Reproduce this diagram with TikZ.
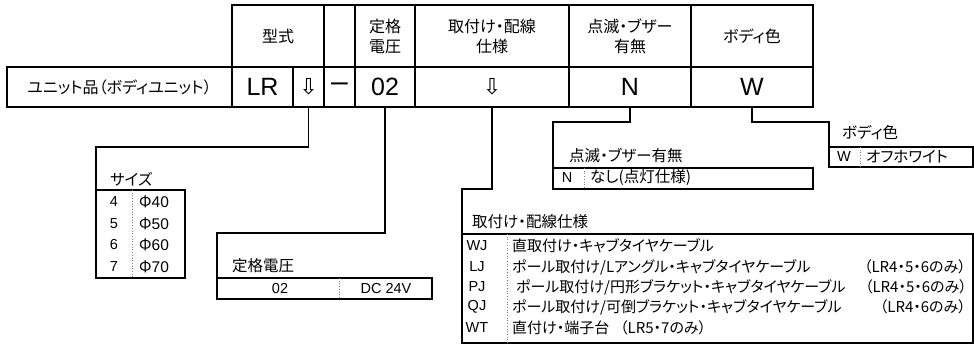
\documentclass[tikz,border=0pt]{standalone}
\usepackage{fontspec}
\setmainfont{Noto Sans CJK JP}[RawFeature=+palt]
\newfontfamily\latf{Liberation Sans}
\newfontfamily\dvf{DejaVu Sans}
\begin{document}
\begin{tikzpicture}[x=1pt,y=-1pt,
  hcell/.style={draw, line width=1.8pt, inner sep=0pt, outer sep=0pt, anchor=north west, align=center, font=\fontsize{16}{20}\selectfont},
  bigtxt/.style={font=\latf\fontsize{25}{25}\selectfont},
  dashtxt/.style={font=\latf\fontsize{30}{30}\selectfont},
  arrtxt/.style={font=\dvf\fontsize{22}{22}\selectfont},
  boxn/.style={draw, line width=1.5pt, inner sep=0pt, outer sep=0pt, anchor=north west},
  lbl/.style={inner sep=0pt, anchor=west, font=\fontsize{15.5}{17}\selectfont},
  code/.style={inner sep=0pt, font=\latf\fontsize{14.5}{16}\selectfont},
  desc/.style={inner sep=0pt, anchor=west, font=\fontsize{15.5}{17}\selectfont},
  mdesc/.style={inner sep=0pt, anchor=west, font=\fontsize{15}{17}\selectfont},
  conn/.style={line width=1.5pt},
  sepl/.style={draw=gray, dotted, line width=0.7pt}]
\useasboundingbox (0,0) rectangle (974,345);
% header row
\node[hcell, minimum width=92pt, minimum height=62pt] (hType) at (232,5) {型式};
\node[hcell, minimum width=31pt, minimum height=62pt] (hBlank) at (324,5) {};
\node[hcell, minimum width=60pt, minimum height=62pt] (hVolt) at (355,5) {定格\\電圧};
\node[hcell, minimum width=154pt, minimum height=62pt] (hMount) at (415,5) {取付け・配線\\仕様};
\node[hcell, minimum width=122pt, minimum height=62pt] (hBlink) at (569,5) {点滅・ブザー\\有無};
\node[hcell, minimum width=122pt, minimum height=62pt] (hBody) at (691,5) {ボディ色};
% second row
\node[hcell, minimum width=225pt, minimum height=40pt] (rUnit) at (7,67) {ユニット品（ボディユニット）};
\node[hcell, bigtxt, minimum width=61pt, minimum height=40pt] (rLR) at (232,67) {LR};
\node[hcell, arrtxt, minimum width=31pt, minimum height=40pt] (rSz) at (293,67) {⇩};
\node[hcell, dashtxt, minimum width=31pt, minimum height=40pt] (rDash) at (324,67) {–};
\node[hcell, bigtxt, minimum width=60pt, minimum height=40pt] (rVolt) at (355,67) {02};
\node[hcell, arrtxt, minimum width=154pt, minimum height=40pt] (rMount) at (415,67) {⇩};
\node[hcell, bigtxt, minimum width=122pt, minimum height=40pt] (rBlink) at (569,67) {N};
\node[hcell, bigtxt, minimum width=122pt, minimum height=40pt] (rBody) at (691,67) {W};
% size table
\node[boxn, minimum width=89pt, minimum height=88pt] (sizebox) at (96,190) {};
\node[lbl] (sizelbl) at (110,179) {サイズ};
\draw[sepl] (132,190) -- (132,278);
\node[code] (s4) at (114,202) {4};
\node[code] (s5) at (114,224) {5};
\node[code] (s6) at (114,245) {6};
\node[code] (s7) at (114,267) {7};
\node[desc] (d4) at (139,202) {Φ{\latf 40}};
\node[desc] (d5) at (139,224) {Φ{\latf 50}};
\node[desc] (d6) at (139,245) {Φ{\latf 60}};
\node[desc] (d7) at (139,267) {Φ{\latf 70}};
\draw[conn] (rSz.south) -- ++(0,40) -| (sizebox.north west);
% voltage table
\node[boxn, minimum width=215pt, minimum height=21pt] (voltbox) at (217,278) {};
\node[lbl] (voltlbl) at (232,266) {定格電圧};
\draw[sepl] (339,278) -- (339,299);
\node[code] (v02) at (280,289) {02};
\node[code] (vdc) at (386,289) {DC 24V};
\draw[conn] (rVolt.south) -- ++(0,126) -| (voltbox.north west);
% mounting table
\node[boxn, minimum width=511pt, minimum height=109pt] (mountbox) at (462,234) {};
\draw[line width=2.3pt] (mountbox.north west) -- (mountbox.north east);
\node[lbl] (mountlbl) at (472,222) {取付け・配線仕様};
\draw[sepl] (507,234) -- (507,343);
\node[code] (mWJ) at (477,246) {WJ};
\node[code] (mLJ) at (477,267) {LJ};
\node[code] (mPJ) at (477,287) {PJ};
\node[code] (mQJ) at (477,307) {QJ};
\node[code] (mWT) at (477,328) {WT};
\node[mdesc] (tWJ) at (512,246) {直取付け・キャブタイヤケーブル};
\node[mdesc] (tLJ) at (512,267) {ポール取付け/Lアングル・キャブタイヤケーブル};
\node[mdesc, anchor=east] (pLJ) at (966,267) {（LR4・5・6のみ）};
\node[mdesc] (tPJ) at (516,287) {ポール取付け/円形ブラケット・キャブタイヤケーブル};
\node[mdesc, anchor=east] (pPJ) at (967,287) {（LR4・5・6のみ）};
\node[mdesc] (tQJ) at (512,307) {ポール取付け/可倒ブラケット・キャブタイヤケーブル};
\node[mdesc, anchor=east] (pQJ) at (966,307) {（LR4・6のみ）};
\node[mdesc] (tWT) at (512,328) {直付け・端子台};
\node[mdesc] (pWT) at (620,328) {（LR5・7のみ）};
\draw[conn] (rMount.south) -- ++(0,82) -| (mountbox.north west);
% blink table
\node[boxn, minimum width=260pt, minimum height=21pt] (blinkbox) at (553,168) {};
\node[lbl] (blinklbl) at (569,155) {点滅・ブザー有無};
\draw[sepl] (584,168) -- (584,189);
\node[code] (bN) at (567,178) {N};
\node[desc] (bT) at (590,178) {なし(点灯仕様)};
\draw[conn] (rBlink.south) -- ++(0,15) -| (blinkbox.north west);
% body color table
\node[boxn, minimum width=144pt, minimum height=20pt] (bodybox) at (829,147) {};
\node[lbl] (bodylbl) at (842,133) {ボディ色};
\draw[sepl] (860,147) -- (860,167);
\node[code] (cW) at (844,157) {W};
\node[desc] (cT) at (866,157) {オフホワイト};
\draw[conn] (rBody.south) -- ++(0,15) -| (bodybox.north west);
\end{tikzpicture}
\end{document}
